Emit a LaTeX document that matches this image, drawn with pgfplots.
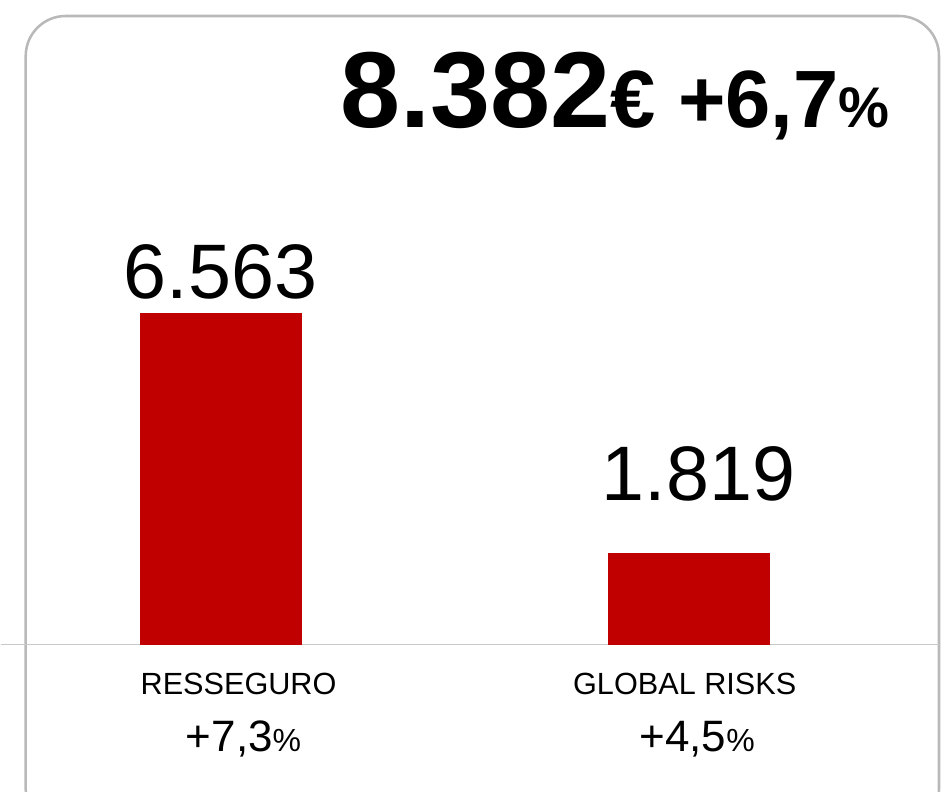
\documentclass[border=0pt]{standalone}
\usepackage{pgfplots}
\pgfplotsset{compat=1.18}
\usepackage{fontspec}
\setmainfont{Liberation Sans}
\definecolor{barred}{RGB}{192,0,0}
\definecolor{framegray}{RGB}{185,185,185}
\definecolor{linegray}{RGB}{200,200,200}
\begin{document}
\begin{tikzpicture}
\begin{scope}[x=0.75pt,y=-0.75pt]
\useasboundingbox (0,0) rectangle (941,792);
\clip (0,0) rectangle (941,792);
\draw[framegray, line width=1.9pt, rounded corners=30pt] (25,16) rectangle (939,830);
\end{scope}
\begin{axis}[
  at={(0pt,-483.75pt)}, anchor=south west,
  scale only axis, width=704.25pt, height=249pt,
  xmin=-0.46908, xmax=1.53305, ymin=0, ymax=6563,
  axis x line*=bottom, hide y axis,
  x axis line style={-, draw=linegray, line width=1.1pt},
  xtick=\empty, ytick=\empty,
  clip=false,
  ybar, bar width=121.5pt, bar shift=0pt,
  nodes near coords,
  every node near coord/.append style={font=\fontsize{58}{60}\selectfont, anchor=base, text=black},
  /pgf/number format/.cd, fixed, precision=0, 1000 sep={.}, assume math mode=true,
]
\addplot[fill=barred, draw=none, every node near coord/.append style={yshift=11pt}] coordinates {(0,6563)};
\addplot[fill=barred, draw=none, every node near coord/.append style={yshift=39pt, xshift=7pt}] coordinates {(1,1819)};
\end{axis}
\begin{scope}[x=0.75pt,y=-0.75pt]
\node[anchor=base east, inner sep=0pt, font=\bfseries] at (890,128) {\fontsize{81}{81}\selectfont 8.382\fontsize{61}{61}\selectfont€ +6,7\fontsize{43}{43}\selectfont\%};
\node[anchor=base, inner sep=0pt, font=\fontsize{23}{25}\selectfont] at (238,695) {RESSEGURO};
\node[anchor=base, inner sep=0pt, font=\fontsize{23}{25}\selectfont] at (684.5,695) {GLOBAL RISKS};
\node[anchor=base, inner sep=0pt, font=\fontsize{33}{35}\selectfont] at (243,752) {+7,3{\fontsize{24}{26}\selectfont\%}};
\node[anchor=base, inner sep=0pt, font=\fontsize{33}{35}\selectfont] at (697,752) {+4,5{\fontsize{24}{26}\selectfont\%}};
\end{scope}
\end{tikzpicture}
\end{document}
